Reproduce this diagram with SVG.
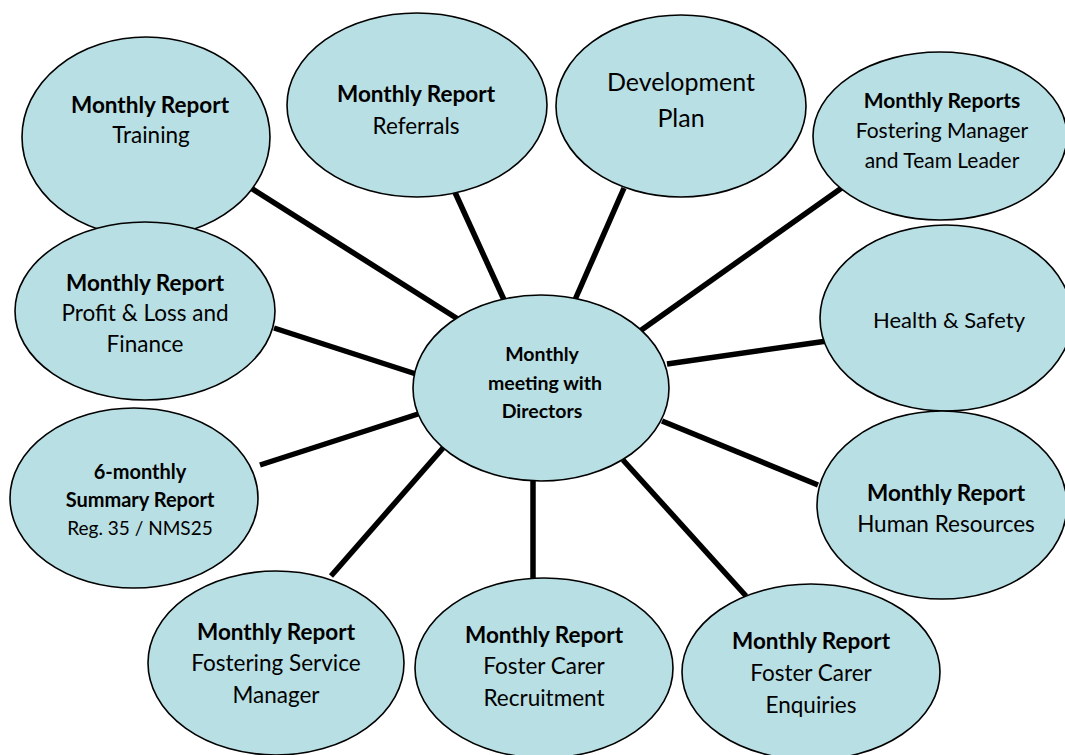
<svg xmlns="http://www.w3.org/2000/svg" width="1065" height="755" viewBox="0 0 1065 755">
<style>
.n{fill:#b8dfe3;stroke:#000;stroke-width:1.6}
.c line{stroke:#000;stroke-width:5.5;stroke-linecap:butt}
text{font-family:Lato,"Liberation Sans",sans-serif;fill:#000;text-anchor:middle;font-size:22.5px}
.b{font-weight:bold}
.s{font-size:20px}
</style>
<rect width="1065" height="755" fill="#fff"/>
<g class="c" id="connectors">
<line x1="243" y1="183" x2="461" y2="321"/>
<line x1="453" y1="188" x2="505" y2="302"/>
<line x1="624" y1="188" x2="574" y2="302"/>
<line x1="843" y1="187" x2="640" y2="331"/>
<line x1="274" y1="328" x2="416" y2="374"/>
<line x1="827" y1="341" x2="667" y2="364"/>
<line x1="260" y1="465" x2="418" y2="414"/>
<line x1="818" y1="485" x2="662" y2="421"/>
<line x1="331" y1="576" x2="443" y2="448"/>
<line x1="533" y1="478" x2="533" y2="580"/>
<line x1="623" y1="460" x2="746" y2="596"/>
</g>
<g id="center"><ellipse class="n" cx="541" cy="388" rx="128" ry="93"/>
<text class="b" x="542" y="361" style="font-size:19.5px">Monthly</text><text class="b" x="545" y="390" style="font-size:19.5px">meeting with</text><text class="b" x="542" y="418" style="font-size:19.5px">Directors</text></g>
<g id="training"><ellipse class="n" cx="146" cy="137" rx="124" ry="100"/>
<text class="b" x="150" y="113">Monthly Report</text><text x="151" y="143">Training</text></g>
<g id="referrals"><ellipse class="n" cx="417" cy="105" rx="130" ry="92"/>
<text class="b" x="416" y="102">Monthly Report</text><text x="416" y="134">Referrals</text></g>
<g id="devplan"><ellipse class="n" cx="681" cy="106" rx="125" ry="91"/>
<text x="681" y="91" style="font-size:25px">Development</text><text x="681" y="127" style="font-size:25px">Plan</text></g>
<g id="fostermgr"><ellipse class="n" cx="940" cy="136" rx="127" ry="84"/>
<text class="b" x="942" y="108" style="font-size:21px">Monthly Reports</text><text x="942" y="138" style="font-size:21px">Fostering Manager</text><text x="942" y="168" style="font-size:21px">and Team Leader</text></g>
<g id="pl"><ellipse class="n" cx="145" cy="311" rx="130" ry="89"/>
<text class="b" x="145" y="291">Monthly Report</text><text x="145" y="321">Profit &amp; Loss and</text><text x="145" y="352">Finance</text></g>
<g id="hs"><ellipse class="n" cx="946" cy="318" rx="126" ry="93"/>
<text x="949" y="328" style="font-size:22px">Health &amp; Safety</text></g>
<g id="sixmonthly"><ellipse class="n" cx="134" cy="498" rx="124" ry="90"/>
<text class="b s" x="140" y="479">6-monthly</text><text class="b s" x="140" y="507">Summary Report</text><text class="s" x="140" y="535" style="font-size:19px">Reg. 35 / NMS25</text></g>
<g id="hr"><ellipse class="n" cx="942" cy="505" rx="125" ry="94"/>
<text class="b" x="946" y="501">Monthly Report</text><text x="946" y="532">Human Resources</text></g>
<g id="fsm"><ellipse class="n" cx="276" cy="663" rx="128" ry="92"/>
<text class="b" x="276" y="640">Monthly Report</text><text x="276" y="671">Fostering Service</text><text x="276" y="703">Manager</text></g>
<g id="recruit"><ellipse class="n" cx="544" cy="668" rx="129" ry="90"/>
<text class="b" x="544" y="643">Monthly Report</text><text x="544" y="674">Foster Carer</text><text x="544" y="706">Recruitment</text></g>
<g id="enquiries"><ellipse class="n" cx="811" cy="672" rx="129" ry="88"/>
<text class="b" x="811" y="649">Monthly Report</text><text x="811" y="681">Foster Carer</text><text x="811" y="713">Enquiries</text></g>
</svg>
